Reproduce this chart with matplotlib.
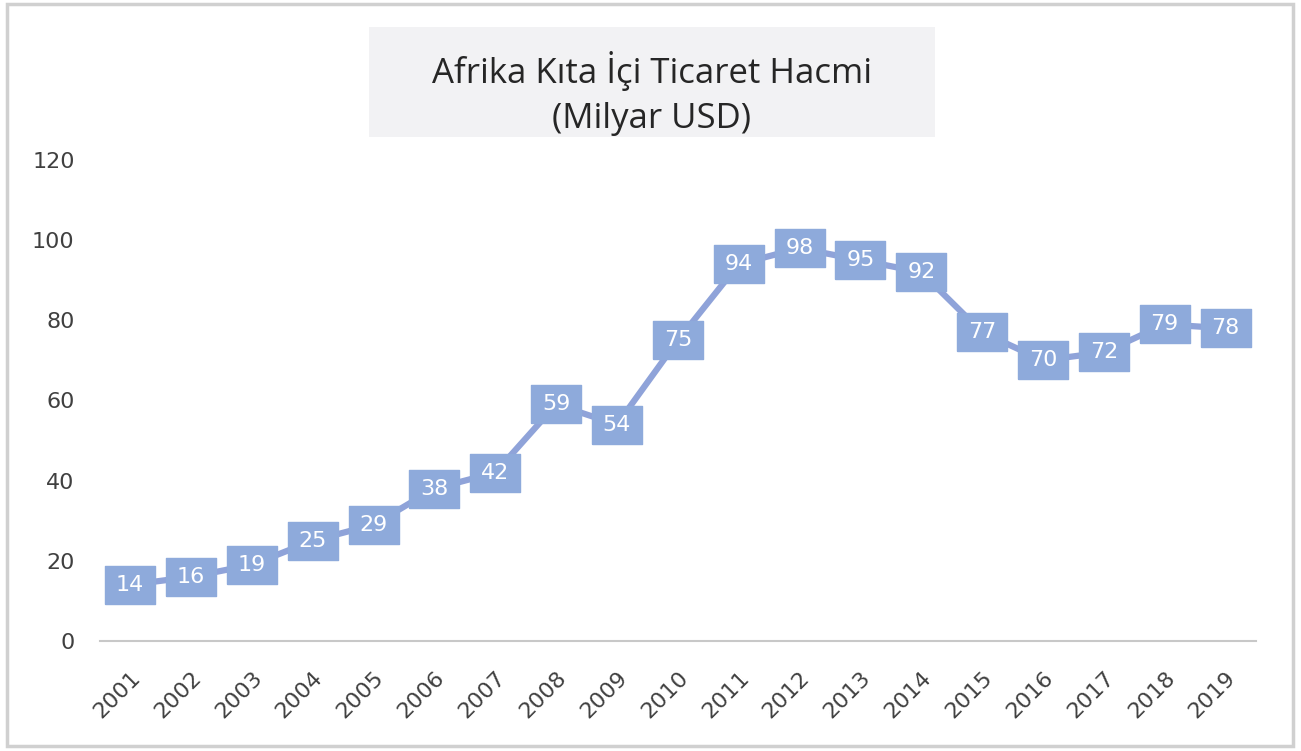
import matplotlib.pyplot as plt
from matplotlib.patches import Rectangle

years = [str(y) for y in range(2001, 2020)]
values = [14, 16, 19, 25, 29, 38, 42, 59, 54, 75, 94, 98, 95, 92, 77, 70, 72, 79, 78]
yticks = [0, 20, 40, 60, 80, 100, 120]
title_lines = ["Afrika Kıta İçi Ticaret Hacmi", "(Milyar USD)"]

blue = "#8eaadb"
line_blue = "#8fa3d9"
txt_gray = "#404040"
lab_font = ["DejaVu Sans"]

fig = plt.figure(figsize=(13.01, 7.51), dpi=100)
ax = fig.add_axes([0.0766, 0.1465, 0.8888, 0.6405])

x = list(range(len(years)))
box = [(-1, -0.76), (1, -0.76), (1, 0.76), (-1, 0.76), (-1, -0.76)]
ax.plot(x, values, color=line_blue, lw=4.5, solid_capstyle="butt", zorder=2)
ax.plot(x, values, linestyle="none", marker=box, markersize=36,
        markerfacecolor=blue, markeredgecolor=blue, zorder=3)
for xi, v in zip(x, values):
    ax.text(xi, v, str(v), ha="center", va="center", color="white",
            fontsize=16, family=lab_font, zorder=4)

ax.set_xlim(-0.5, len(years) - 0.5)
ax.set_ylim(0, 120)
ax.set_yticks(yticks)
ax.set_xticks(x)
ax.set_xticklabels(years, rotation=45, ha="right", rotation_mode="anchor")
ax.tick_params(axis="both", length=0, labelsize=16, labelcolor=txt_gray)
ax.tick_params(axis="y", pad=18)
ax.tick_params(axis="x", pad=19)
for lab in ax.get_xticklabels() + ax.get_yticklabels():
    lab.set_family(lab_font)
for s in ["top", "right", "left"]:
    ax.spines[s].set_visible(False)
ax.spines["bottom"].set_color("#c8c8c8")
ax.spines["bottom"].set_linewidth(1.5)

# title box
fig.patches.append(Rectangle((0.2836, 0.8176), 0.4351, 0.1464, transform=fig.transFigure,
                             facecolor="#f2f2f4", edgecolor="none", zorder=0))
fig.text(0.501, 0.905, title_lines[0], ha="center", va="center", fontsize=25,
         family="Open Sans", color="#262626")
fig.text(0.501, 0.842, title_lines[1], ha="center", va="center", fontsize=25,
         family="Open Sans", color="#262626")

# outer frame
fig.patches.append(Rectangle((0.0055, 0.006), 0.988, 0.989, transform=fig.transFigure,
                             facecolor="none", edgecolor="#d0d0d0", lw=2.5, zorder=0))

fig.savefig("out.png", dpi=100)
